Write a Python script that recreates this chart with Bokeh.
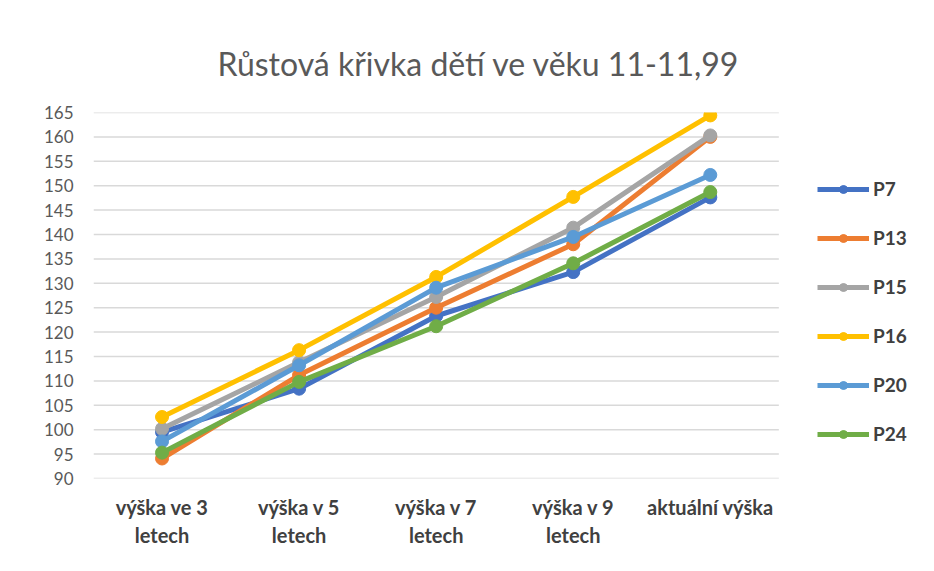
from bokeh.plotting import figure
from bokeh.models import FixedTicker, Legend, LegendItem, Title
from bokeh.embed import file_html
from bokeh.resources import INLINE

categories = ["výška ve 3\nletech", "výška v 5\nletech", "výška v 7\nletech",
              "výška v 9\nletech", "aktuální výška"]
series_names = ["P7", "P13", "P15", "P16", "P20", "P24"]
p7 = [99.5, 108.4, 123.3, 132.3, 147.6]
p13 = [94.1, 111.2, 125.0, 138.0, 160.0]
p15 = [100.2, 113.8, 127.2, 141.4, 160.3]
p16 = [102.6, 116.3, 131.3, 147.7, 164.4]
p20 = [97.6, 113.2, 129.1, 139.5, 152.2]
p24 = [95.3, 109.8, 121.2, 134.1, 148.7]
series_values = [p7, p13, p15, p16, p20, p24]
colors = ["#4472C4", "#ED7D31", "#A5A5A5", "#FFC000", "#5B9BD5", "#70AD47"]
y_ticks = list(range(90, 166, 5))

FONT = "Lato"
xs = list(range(len(categories)))

# plot area spans 5 category bands; extra room on the right holds the legend
p = figure(x_range=(-0.5, 5.57), y_range=(90, 165), width=934, height=571,
           output_backend="svg", toolbar_location=None,
           min_border_left=93, min_border_right=9,
           min_border_top=112, min_border_bottom=93)
p.outline_line_color = None
p.background_fill_color = "white"
p.border_fill_color = "white"

p.add_layout(Title(text="Růstová křivka dětí ve věku 11-11,99", align="left",
                   text_font=FONT, text_font_size="32px", text_font_style="normal",
                   text_color="#595959", offset=124, standoff=60), "above")

p.yaxis.ticker = FixedTicker(ticks=y_ticks)
p.yaxis.axis_line_color = None
p.yaxis.major_tick_line_color = None
p.yaxis.minor_tick_line_color = None
p.yaxis.major_label_text_font = FONT
p.yaxis.major_label_text_font_size = "17px"
p.yaxis.major_label_text_color = "#595959"
p.yaxis.major_label_standoff = 14

p.xaxis.ticker = FixedTicker(ticks=xs)
p.xaxis.major_label_overrides = {i: c for i, c in zip(xs, categories)}
p.xaxis.axis_line_color = None
p.xaxis.major_tick_line_color = None
p.xaxis.minor_tick_line_color = None
p.xaxis.major_label_text_font = FONT
p.xaxis.major_label_text_font_size = "20px"
p.xaxis.major_label_text_font_style = "bold"
p.xaxis.major_label_text_color = "#404040"
p.xaxis.major_label_standoff = 10

p.xgrid.grid_line_color = None
p.ygrid.grid_line_color = None
# horizontal gridlines limited to the category area
p.segment(x0=[xs[0] - 0.5] * len(y_ticks), x1=[xs[-1] + 0.5] * len(y_ticks),
          y0=y_ticks, y1=y_ticks, line_color="#D9D9D9", line_width=1.5)

items = []
for name, vals, col in zip(series_names, series_values, colors):
    r1 = p.line(xs, vals, line_color=col, line_width=5, line_join="round")
    r2 = p.scatter(xs, vals, size=13, fill_color=col, line_color=col)
    items.append(LegendItem(label=name, renderers=[r1, r2]))

legend = Legend(items=items, location=(724, 33), orientation="vertical",
                glyph_width=52, glyph_height=20, label_height=20, spacing=26,
                padding=0, margin=0, border_line_color=None,
                background_fill_alpha=0,
                label_text_font=FONT, label_text_font_size="19px",
                label_text_font_style="bold", label_text_color="#404040",
                label_standoff=4)
p.add_layout(legend, "center")

open("out.html", "w").write(file_html(p, INLINE))
